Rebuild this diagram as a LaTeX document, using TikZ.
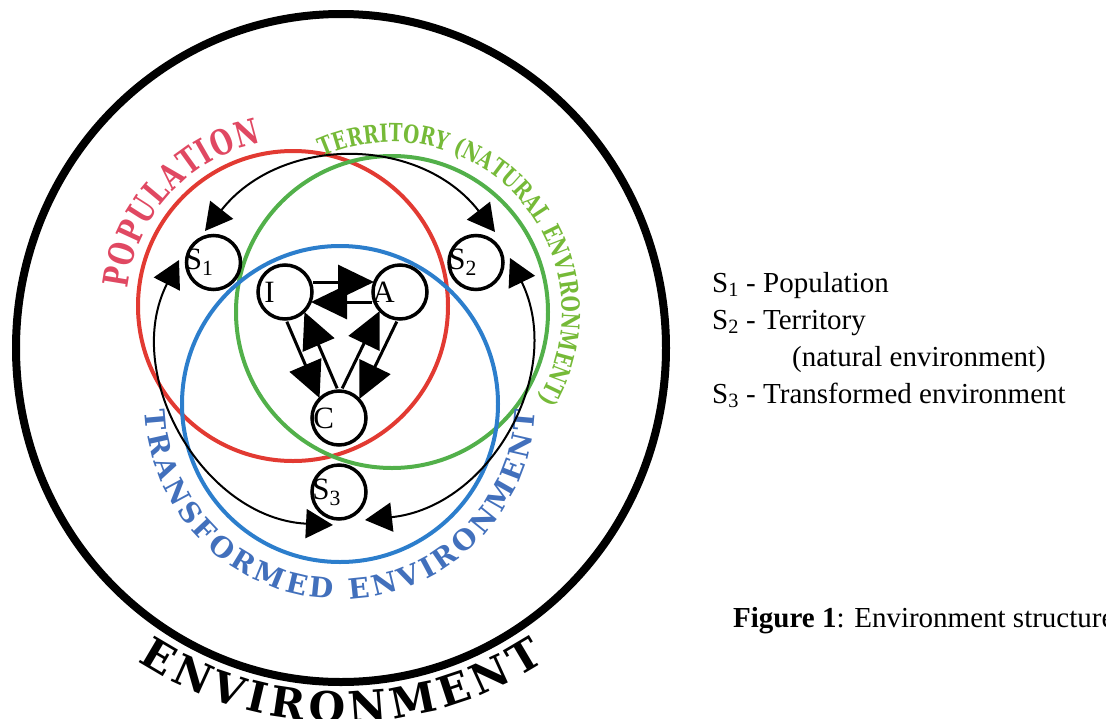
\documentclass[tikz,border=0pt]{standalone}
\usepackage{fontspec}
\setmainfont{Liberation Serif}
\newfontfamily\arcfont{DejaVu Serif Bold}[FakeStretch=0.74]
\newfontfamily\widearcfont{DejaVu Serif Bold}
\usetikzlibrary{arrows.meta,calc,positioning,decorations.text}

\definecolor{popred}{RGB}{226,58,50}
\definecolor{popink}{RGB}{224,72,98}
\definecolor{terrgreen}{RGB}{82,176,74}
\definecolor{terrlime}{RGB}{118,186,56}
\definecolor{transblue}{RGB}{44,126,204}
\definecolor{transtext}{RGB}{66,112,188}

\tikzset{
  ball/.style={circle, draw, line width=3.5pt, fill=white, minimum size=54pt, inner sep=0pt},
  tag/.style={inner sep=0pt, font=\fontsize{31}{31}\selectfont},
  legend/.style={inner sep=0pt, anchor=base west, font=\fontsize{29}{29}\selectfont},
  zone/.style={line width=4pt},
  flow/.style={line width=3pt, -{Triangle[length=36pt,width=34pt]}, shorten <=28pt, shorten >=26pt},
  loopline/.style={line width=2pt, {Triangle[length=27pt,width=29pt]}-{Triangle[length=27pt,width=29pt]}, looseness=1.08},
}

\begin{document}
\begin{tikzpicture}[x=1pt,y=1pt]
	\useasboundingbox (0,0) rectangle (1106,-718);

	% centres of the big rings
	\coordinate (envc) at (341,-348);
	\coordinate (popc) at (293,-306);
	\coordinate (terc) at (392,-312);
	\coordinate (trac) at (340,-404);

	% environment
	\draw[line width=8pt] (envc) ellipse[x radius=325, y radius=334];
	\path[decorate, decoration={text along path, text align={fit to path},
		text={|\widearcfont\fontsize{42}{42}\selectfont|ENVIRONMENT}}]
		($(envc)+(-123:374)$) arc[start angle=-123, end angle=-57, radius=374];

	% population, territory, transformed environment
	\draw[zone, popred] (popc) circle[radius=155];
	\draw[zone, terrgreen] (terc) circle[radius=156];
	\draw[zone, transblue] (trac) circle[radius=158];

	\path[decorate, decoration={text along path, text align={fit to path}, text color=popink,
		text={|\arcfont\fontsize{35}{35}\selectfont|POPULATION}}]
		($(popc)+(174:166)$) arc[start angle=174, end angle=101, radius=166];
	\path[decorate, decoration={text along path, text align={fit to path}, text color=terrlime,
		text={|\arcfont\fontsize{25}{25}\selectfont|TERRITORY (NATURAL ENVIRONMENT)}}]
		($(terc)+(114:170)$) arc[start angle=114, end angle=-31, radius=170];
	\path[decorate, decoration={text along path, text align={fit to path}, text color=transtext,
		text={|\widearcfont\fontsize{28}{28}\selectfont|TRANSFORMED ENVIRONMENT}}]
		($(trac)+(-178:195)$) arc[start angle=-178, end angle=-2, radius=195];

	% ends of the ring arrows
	\coordinate (s1n) at (205,-231);
	\coordinate (s1w) at (179,-260);
	\coordinate (s2n) at (495,-232);
	\coordinate (s2e) at (510,-258);
	\coordinate (s3w) at (333,-525);
	\coordinate (s3e) at (365,-520);

	\draw[loopline] (s1n) to[bend left=52] (s2n);
	\draw[loopline] (s1w) to[bend right=57] (s3w);
	\draw[loopline] (s2e) to[bend left=55] (s3e);

	% subsystems
	\node[ball] (s1) at (213.5,-262.5) {};
	\node[ball] (s2) at (476,-262.5) {};
	\node[ball] (s3) at (339,-492) {};
	\node[ball] (i) at (285,-292) {};
	\node[ball] (a) at (400,-292) {};
	\node[ball] (c) at (339,-418) {};

	\node[tag, right=0pt of s1.west] (s1t) {S\textsubscript{1}};
	\node[tag, right=1pt of s2.west] (s2t) {S\textsubscript{2}};
	\node[tag, right=2pt of s3.west] (s3t) {S\textsubscript{3}};
	\node[tag, right=8pt of i.west] (it) {I};
	\node[tag, right=1pt of a.west] (at) {A};
	\node[tag, right=3pt of c.west] (ct) {C};

	\foreach \from/\to/\side in {i/a/10, a/i/10, i/c/-10, c/i/-10, a/c/10, c/a/10}
		\draw[flow] ($(\from)!\side pt!90:(\to)$) -- ($(\to)!\side pt!-90:(\from)$);

	% legend
	\node[legend] (l1) at (712,-292) {S\textsubscript{1} - Population};
	\node[legend] (l2) at (712,-329) {S\textsubscript{2} - Territory};
	\node[legend] (l3) at (792,-366) {(natural environment)};
	\node[legend] (l4) at (712,-403) {S\textsubscript{3} - Transformed environment};
	\node[legend] (cap) at (733,-627) {\textbf{Figure 1}: Environment structure};
\end{tikzpicture}
\end{document}
